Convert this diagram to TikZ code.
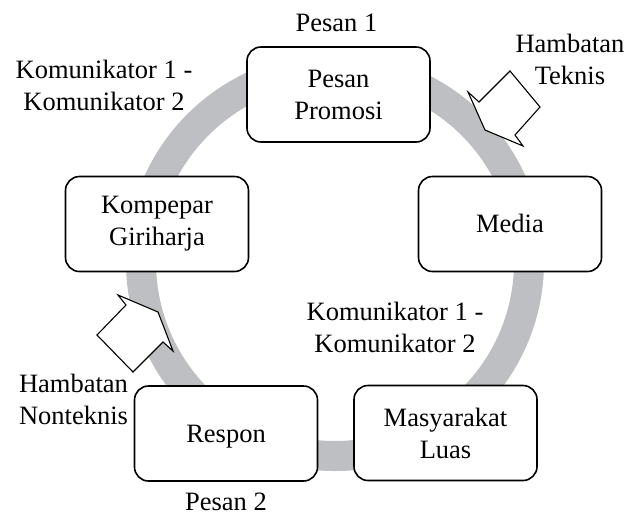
\documentclass[tikz,border=0pt]{standalone}
\usepackage{fontspec}
\setmainfont{Liberation Serif}
\definecolor{ringgray}{RGB}{190,191,194}
\begin{document}
\begin{tikzpicture}[x=1pt,y=-1pt,
  every node/.style={font=\fontsize{26.5}{32}\selectfont},
  box/.style={draw=black, line width=1.6pt, rounded corners=14pt, fill=white,
    minimum width=183pt, minimum height=95pt, align=center, inner sep=0pt},
  lbl/.style={align=center, inner sep=0pt},
  oneline/.style={text height=17.4pt, text depth=0pt},
  blockarrow/.style={draw=black, line width=1.1pt, fill=white, line join=miter}]
\useasboundingbox (0,0) rectangle (642,515);
% ring
\coordinate (c) at (335,262);
\draw[ringgray, line width=30pt] (c) circle[radius=194pt];
% block arrows
\coordinate (t1) at (468,92);  \coordinate (t2) at (479,102);
\coordinate (t3) at (510,71);  \coordinate (t4) at (540,107);
\coordinate (t5) at (515,135); \coordinate (t6) at (523,146);
\coordinate (t7) at (485,130);
\draw[blockarrow] (t1) -- (t2) -- (t3) -- (t4) -- (t5) -- (t6) -- (t7) -- cycle;
\coordinate (n1) at (118,295); \coordinate (n2) at (126,305);
\coordinate (n3) at (97,335);  \coordinate (n4) at (133,372);
\coordinate (n5) at (163,342); \coordinate (n6) at (173,351);
\coordinate (n7) at (158,312);
\draw[blockarrow] (n1) -- (n2) -- (n3) -- (n4) -- (n5) -- (n6) -- (n7) -- cycle;
% boxes
\node[box] (pesan) at (338.5,94.5) {Pesan\\Promosi};
\node[box] (kompepar) at (157,224) {Kompepar\\Giriharja};
\node[box, oneline] (media) at (510,224) {Media};
\node[box, oneline] (respon) at (226,433.5) {Respon};
\node[box] (masy) at (445.5,433) {Masyarakat\\Luas};
% labels
\node[lbl, oneline] (p1) at (336.5,23) {Pesan 1};
\node[lbl, oneline] (p2) at (226,501.5) {Pesan 2};
\node[lbl] (ht) at (570,59) {Hambatan\\Teknis};
\node[lbl] (k1) at (104,85) {Komunikator 1 -\\Komunikator 2};
\node[lbl] (k2) at (395,327) {Komunikator 1 -\\Komunikator 2};
\node[lbl] (hn) at (73.5,399) {Hambatan\\Nonteknis};
\end{tikzpicture}
\end{document}
